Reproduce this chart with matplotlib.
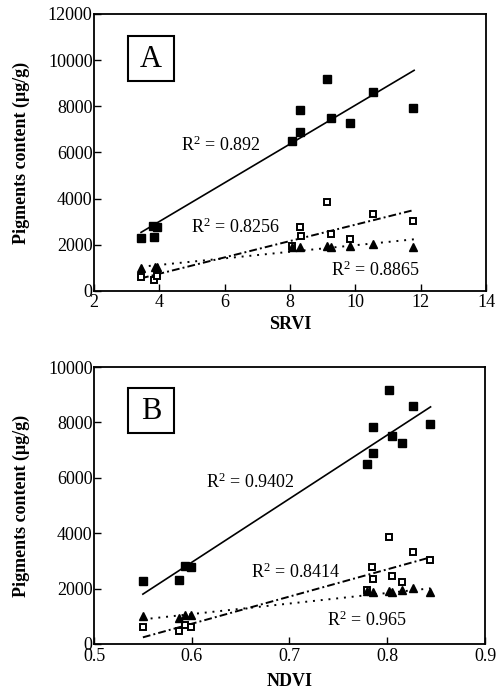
import matplotlib
matplotlib.use("Agg")
import matplotlib.pyplot as plt
from matplotlib.patches import Rectangle
import numpy as np

plt.rcParams['font.family'] = ['Liberation Serif', 'DejaVu Serif']
plt.rcParams['mathtext.fontset'] = 'custom'
plt.rcParams['mathtext.rm'] = 'Liberation Serif'
plt.rcParams['mathtext.default'] = 'regular'

# ---------------- Panel A (SRVI) ----------------
srvi_filled_x = [3.44, 3.85, 3.82, 3.92, 8.07, 8.30, 8.32, 9.14, 9.24, 9.84, 10.54, 11.76]
srvi_filled_y = [2310, 2350, 2800, 2780, 6490, 7830, 6890, 9170, 7510, 7260, 8610, 7940]
srvi_open_x = [3.44, 3.85, 3.94, 8.07, 8.30, 8.34, 9.14, 9.24, 9.84, 10.54, 11.76]
srvi_open_y = [610, 480, 660, 1950, 2770, 2380, 3850, 2450, 2250, 3350, 3030]
srvi_tri_x = [3.44, 3.87, 3.92, 8.07, 8.30, 9.14, 9.24, 9.84, 10.54, 11.78]
srvi_tri_y = [980, 1050, 1050, 1920, 1890, 1950, 1890, 1950, 2020, 1920]
srvi_fit_x = [3.44, 11.8]
srvi_fit_filled = [2540, 9560]
srvi_fit_open = [550, 3510]
srvi_fit_tri = [1050, 2240]
srvi_r2 = ["0.892", "0.8256", "0.8865"]

# ---------------- Panel B (NDVI) ----------------
ndvi_filled_x = [0.550, 0.587, 0.5926, 0.599, 0.779, 0.785, 0.785, 0.802, 0.805, 0.8146, 0.826, 0.8436]
ndvi_filled_y = [2280, 2320, 2810, 2780, 6490, 6910, 7840, 9160, 7510, 7270, 8610, 7930]
ndvi_open_x = [0.550, 0.587, 0.5926, 0.599, 0.779, 0.784, 0.785, 0.802, 0.805, 0.8146, 0.826, 0.8436]
ndvi_open_y = [600, 480, 700, 620, 1950, 2770, 2330, 3870, 2460, 2250, 3310, 3030]
ndvi_tri_x = [0.550, 0.587, 0.5926, 0.599, 0.779, 0.785, 0.802, 0.805, 0.8146, 0.826, 0.8436]
ndvi_tri_y = [1010, 925, 1030, 1030, 1920, 1880, 1920, 1880, 1950, 2010, 1860]
ndvi_fit_x = [0.550, 0.8443]
ndvi_fit_filled = [1800, 8560]
ndvi_fit_open = [240, 3130]
ndvi_fit_tri = [890, 2010]
ndvi_r2 = ["0.9402", "0.8414", "0.965"]

fig = plt.figure(figsize=(4.98, 6.89), dpi=100)
axA = fig.add_axes([94/498, 1-291/689, 392/498, 277/689])
axB = fig.add_axes([94/498, 1-644/689, 391/498, 277/689])

FS = 13

def style(ax):
    for s in ax.spines.values():
        s.set_linewidth(1.3)
    ax.tick_params(direction='in', length=5, width=1.0, labelsize=FS, pad=2,
                   top=False, right=False)
    ax.tick_params(axis='y', pad=1)

def draw(ax, fx, fy, ox, oy, tx, ty, lx, lf, lo, lt):
    ax.plot(lx, lf, color='black', lw=1.2, ls='-')
    ax.plot(lx, lo, color='black', lw=1.4, ls=(0, (4, 1.6, 1, 1.6)))
    ax.plot(lx, lt, color='black', lw=1.4, ls=(0, (1, 3.0)))
    ax.plot(fx, fy, ls='none', marker='s', ms=5.4, mfc='black', mec='black')
    ax.plot(ox, oy, ls='none', marker='s', ms=4.9, mfc='white', mec='black', mew=1.4)
    ax.plot(tx, ty, ls='none', marker='^', ms=5.8, mfc='black', mec='black')

draw(axA, srvi_filled_x, srvi_filled_y, srvi_open_x, srvi_open_y, srvi_tri_x, srvi_tri_y,
     srvi_fit_x, srvi_fit_filled, srvi_fit_open, srvi_fit_tri)
draw(axB, ndvi_filled_x, ndvi_filled_y, ndvi_open_x, ndvi_open_y, ndvi_tri_x, ndvi_tri_y,
     ndvi_fit_x, ndvi_fit_filled, ndvi_fit_open, ndvi_fit_tri)

axA.set_xlim(2, 14)
axA.set_ylim(0, 12000)
axA.set_xticks([2, 4, 6, 8, 10, 12, 14])
axA.set_yticks(range(0, 12001, 2000))
axB.set_xlim(0.5, 0.9)
axB.set_ylim(0, 10000)
axB.set_xticks([0.5, 0.6, 0.7, 0.8, 0.9])
axB.set_xticklabels(['0.5', '0.6', '0.7', '0.8', '0.9'])
axB.set_yticks(range(0, 10001, 2000))

for ax, xl, lp in ((axA, 'SRVI', 4), (axB, 'NDVI', 6)):
    style(ax)
    ax.set_xlabel(xl, fontsize=FS, fontweight='bold', labelpad=lp)
    ax.set_ylabel('Pigments content (\u03bcg/g)', fontsize=FS, fontweight='bold', labelpad=13)
axB.tick_params(axis='x', pad=3)

for ax, letter, y0 in ((axA, 'A', 0.758), (axB, 'B', 0.762)):
    ax.add_patch(Rectangle((0.0867, y0), 0.117, 0.162, transform=ax.transAxes,
                           fc='white', ec='black', lw=1.5, zorder=3))
    ax.text(0.0867 + 0.0585, y0 + 0.078, letter, transform=ax.transAxes, fontsize=22,
            ha='center', va='center', zorder=4)

axA.text(4.65, 6330, r'R$^{2}$ = ' + srvi_r2[0], fontsize=FS, ha='left', va='center')
axA.text(4.98, 2770, r'R$^{2}$ = ' + srvi_r2[1], fontsize=FS, ha='left', va='center')
axA.text(9.26, 910, r'R$^{2}$ = ' + srvi_r2[2], fontsize=FS, ha='left', va='center')

axB.text(0.615, 5840, r'R$^{2}$ = ' + ndvi_r2[0], fontsize=FS, ha='left', va='center')
axB.text(0.661, 2600, r'R$^{2}$ = ' + ndvi_r2[1], fontsize=FS, ha='left', va='center')
axB.text(0.738, 870, r'R$^{2}$ = ' + ndvi_r2[2], fontsize=FS, ha='left', va='center')

fig.savefig('out.png', dpi=100)
